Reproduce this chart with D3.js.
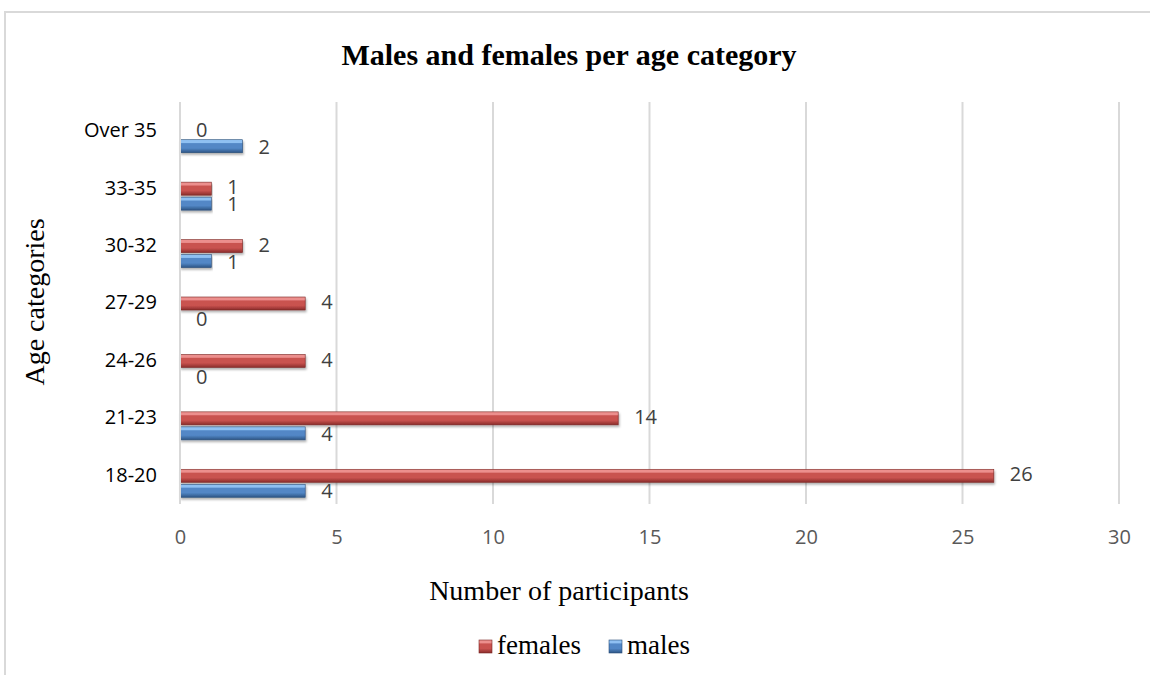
<!DOCTYPE html>
<html>
<head>
<meta charset="utf-8">
<script src="https://cdn.jsdelivr.net/npm/d3@7"></script>
<style>
    body { margin: 0; background: #fff; }
    svg { display: block; }
</style>
</head>
<body>
<div id="chart"></div>
<script>
// Age categories, bottom to top as in the chart
const categories = ['18-20', '21-23', '24-26', '27-29', '30-32', '33-35', 'Over 35'];
const females = [26, 14, 4, 4, 2, 1, 0];
const males = [4, 4, 0, 0, 1, 1, 2];
const xTicks = [0, 5, 10, 15, 20, 25, 30];

const width = 1150;
const height = 675;
const plot = { left: 180, right: 1119, top: 102, bottom: 504 };
const labelFont = '"Open Sans", sans-serif';
const serif = '"Liberation Serif", "Times New Roman", serif';

const svg = d3.select('#chart')
    .append('svg')
    .attr('width', width)
    .attr('height', height);

// chart frame (only top and left edges show in the picture)
svg.append('rect')
    .attr('x', 5).attr('y', 12)
    .attr('width', 1160).attr('height', 700)
    .attr('fill', '#fff')
    .attr('stroke', '#d9d9d9')
    .attr('stroke-width', 2);

// gradients for the bevelled bars
const defs = svg.append('defs');
function bevel(id, light, mid, dark) {
    const gr = defs.append('linearGradient')
        .attr('id', id)
        .attr('x1', 0).attr('y1', 0).attr('x2', 0).attr('y2', 1);
    gr.append('stop').attr('offset', '0%').attr('stop-color', light);
    gr.append('stop').attr('offset', '22%').attr('stop-color', light);
    gr.append('stop').attr('offset', '30%').attr('stop-color', mid);
    gr.append('stop').attr('offset', '65%').attr('stop-color', mid);
    gr.append('stop').attr('offset', '100%').attr('stop-color', dark);
}
bevel('gradF', '#ec8f8d', '#c9524f', '#8a2d2b');
bevel('gradM', '#8fc0f2', '#5287c6', '#2d5585');

const shadow = defs.append('filter').attr('id', 'shadow')
    .attr('x', '-5%').attr('y', '-30%').attr('width', '110%').attr('height', '180%');
shadow.append('feDropShadow')
    .attr('dx', 1).attr('dy', 2).attr('stdDeviation', 1.2)
    .attr('flood-color', '#000').attr('flood-opacity', 0.3);

const x = d3.scaleLinear().domain([0, 30]).range([plot.left, plot.right]);
const y = d3.scaleBand()
    .domain(categories)
    .range([plot.bottom, plot.top]);

// vertical gridlines
svg.append('g')
    .selectAll('line')
    .data(xTicks)
    .enter()
    .append('line')
    .attr('x1', d => x(d)).attr('x2', d => x(d))
    .attr('y1', plot.top).attr('y2', plot.bottom)
    .attr('stroke', '#d9d9d9')
    .attr('stroke-width', 2);

// x axis tick labels
const xAxis = d3.axisBottom(x).tickValues(xTicks).tickSize(0).tickPadding(0);
const xg = svg.append('g')
    .attr('transform', `translate(0,${plot.bottom + 26})`)
    .call(xAxis);
xg.select('.domain').remove();
xg.selectAll('text')
    .attr('font-family', labelFont)
    .attr('font-size', 20)
    .attr('fill', '#595959');

// y axis category labels
const yAxis = d3.axisLeft(y).tickSize(0).tickPadding(0);
const yg = svg.append('g')
    .attr('transform', `translate(${plot.left - 23},0)`)
    .call(yAxis);
yg.select('.domain').remove();
yg.selectAll('text')
    .attr('font-family', labelFont)
    .attr('font-size', 20)
    .attr('fill', '#000');

const center = d => y(d) + y.bandwidth() / 2;

// bars: females on top of males within each band
const series = [
    { name: 'females', values: females, fill: 'url(#gradF)', stroke: '#7a2624', dy: -6, ly: -1.5 },
    { name: 'males', values: males, fill: 'url(#gradM)', stroke: '#2a4d78', dy: 9, ly: 0.5 }
];
const barH = 13;

series.forEach(s => {
    const g = svg.append('g');
    g.selectAll('rect')
        .data(categories)
        .enter()
        .filter((c, i) => s.values[i] > 0)
        .append('rect')
        .attr('x', x(0))
        .attr('y', c => center(c) + s.dy)
        .attr('width', c => x(s.values[categories.indexOf(c)]) - x(0))
        .attr('height', barH)
        .attr('fill', s.fill)
        .attr('stroke', s.stroke)
        .attr('stroke-width', 0.6)
        .attr('filter', 'url(#shadow)');

    // value labels
    g.selectAll('text')
        .data(categories)
        .enter()
        .append('text')
        .attr('x', c => x(s.values[categories.indexOf(c)]) + 16)
        .attr('y', c => center(c) + s.dy + barH / 2 + s.ly)
        .attr('dy', '0.36em')
        .attr('font-family', labelFont)
        .attr('font-size', 20)
        .attr('fill', '#404040')
        .text(c => s.values[categories.indexOf(c)]);
});

// y axis line
svg.append('line')
    .attr('x1', plot.left).attr('x2', plot.left)
    .attr('y1', plot.top).attr('y2', plot.bottom)
    .attr('stroke', '#d9d9d9')
    .attr('stroke-width', 2);

// title
svg.append('text')
    .attr('x', 569).attr('y', 65)
    .attr('text-anchor', 'middle')
    .attr('font-family', serif)
    .attr('font-weight', 'bold')
    .attr('font-size', 30)
    .text('Males and females per age category');

// axis titles
svg.append('text')
    .attr('x', 559).attr('y', 600)
    .attr('text-anchor', 'middle')
    .attr('font-family', serif)
    .attr('font-size', 28)
    .text('Number of participants');

svg.append('text')
    .attr('transform', 'translate(44,302) rotate(-90)')
    .attr('text-anchor', 'middle')
    .attr('font-family', serif)
    .attr('font-size', 28)
    .text('Age categories');

// legend
const legendItems = [
    { name: 'females', fill: 'url(#gradF)', stroke: '#7a2624', x: 479 },
    { name: 'males', fill: 'url(#gradM)', stroke: '#2a4d78', x: 609 }
];
const legend = svg.append('g');
legendItems.forEach(item => {
    legend.append('rect')
        .attr('x', item.x).attr('y', 640)
        .attr('width', 13).attr('height', 13)
        .attr('fill', item.fill)
        .attr('stroke', item.stroke)
        .attr('stroke-width', 0.6);
    legend.append('text')
        .attr('x', item.x + 18).attr('y', 654)
        .attr('font-family', serif)
        .attr('font-size', 27)
        .text(item.name);
});
</script>
</body>
</html>
